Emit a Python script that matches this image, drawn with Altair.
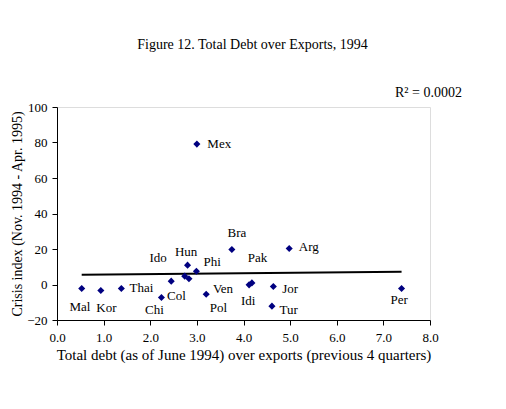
import altair as alt
import pandas as pd

# Data points
debt_exports = [0.53, 0.94, 1.38, 2.24, 2.45, 2.80, 2.74, 2.83, 2.99, 3.00,
                3.20, 3.75, 4.12, 4.18, 4.64, 4.61, 4.98, 7.39]
crisis_index = [-2.3, -3.4, -2.3, -7.3, 1.9, 10.9, 4.7, 3.2, 7.5, 79.1,
                -5.5, 19.7, -0.2, 0.9, -1.1, -12.2, 20.3, -2.3]

# Country labels and where they sit (data units)
label_text = ["Mal", "Kor", "Thai", "Chi", "Col", "Ido", "Hun", "Phi", "Mex",
              "Ven", "Pol", "Bra", "Pak", "Idi", "Jor", "Tur", "Arg", "Per"]
label_x = [0.49, 1.06, 1.81, 2.09, 2.56, 2.17, 2.77, 3.33, 3.48,
           3.56, 3.46, 3.86, 4.30, 4.10, 5.00, 4.97, 5.40, 7.34]
label_y = [-12.6, -13.0, -1.7, -14.5, -6.6, 14.7, 18.4, 12.4, 79.1,
           -2.3, -13.0, 28.8, 15.2, -9.2, -2.6, -14.5, 21.2, -8.9]

x_ticks = [0, 1, 2, 3, 4, 5, 6, 7, 8]
y_ticks = [-20, 0, 20, 40, 60, 80, 100]

FONT = "Liberation Serif"

pts = pd.DataFrame({"x": debt_exports, "y": crisis_index})
lbl = pd.DataFrame({"lx": label_x, "ly": label_y, "t": label_text})

xs = alt.Scale(domain=[0, 8], nice=False, zero=False)
ys = alt.Scale(domain=[-20, 100], nice=False, zero=False)

common = dict(grid=False, domainColor="black", tickColor="black", tickSize=5,
              labelFont=FONT, labelFontSize=13, labelColor="black",
              labelOverlap=False, labelFlush=False,
              titleFont=FONT, titleFontWeight="normal", titleColor="black")
xaxis = alt.Axis(values=x_ticks, format=".1f",
                 title="Total debt (as of June 1994) over exports (previous 4 quarters)",
                 labelPadding=6, titlePadding=3, titleFontSize=15, **common)
yaxis = alt.Axis(values=y_ticks, format="d", title="Crisis index (Nov. 1994 - Apr. 1995)",
                 labelPadding=5, titlePadding=2, titleFontSize=14, **common)

X = alt.X("x:Q", scale=xs, axis=xaxis)
Y = alt.Y("y:Q", scale=ys, axis=yaxis)

points = alt.Chart(pts).mark_point(shape="diamond", filled=True, color="#000080", size=50, opacity=1).encode(
    x=X, y=Y,
)

trend = alt.Chart(pts).transform_regression("x", "y").mark_line(color="black", strokeWidth=2).encode(
    x=X, y=Y,
)

labels = alt.Chart(lbl).mark_text(font=FONT, fontSize=13, color="black", align="center", baseline="middle").encode(
    x=alt.X("lx:Q", scale=xs, axis=xaxis),
    y=alt.Y("ly:Q", scale=ys, axis=yaxis),
    text="t:N",
)

r2 = alt.Chart(pd.DataFrame({"t": ["R² = 0.0002"]})).mark_text(
    font=FONT, fontSize=14, color="black", align="left", baseline="middle"
).encode(x=alt.value(338), y=alt.value(-14), text="t:N")

chart = alt.layer(trend, points, labels, r2).properties(
    width=373, height=213,
    title=alt.TitleParams("Figure 12. Total Debt over Exports, 1994", font=FONT, fontSize=14,
                          fontWeight="normal", color="black", anchor="middle", offset=34, dx=9),
    padding={"left": 49, "top": 99, "right": 50, "bottom": 70},
    autosize=alt.AutoSizeParams(type="none"),
).configure_view(stroke=None).configure(background="white")

chart.save("out.html", embed_options={"renderer": "svg", "actions": False})
